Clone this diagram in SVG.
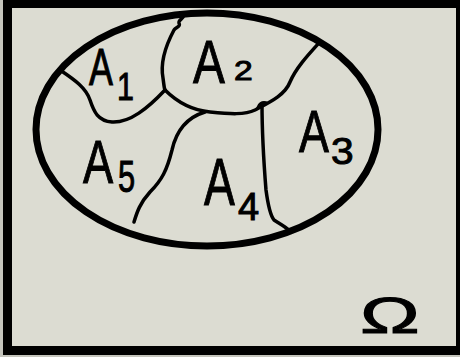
<svg xmlns="http://www.w3.org/2000/svg" width="460" height="357" viewBox="0 0 460 357">
<style>
.lbl{font-family:"Liberation Sans",Arial,sans-serif;fill:#000;stroke:#000;stroke-width:1}
.ln{fill:none;stroke:#000;stroke-width:3.5;stroke-linecap:round;stroke-linejoin:round}
</style>
<rect x="0" y="0" width="460" height="357" fill="#c4c4bc"/>
<rect x="3" y="0" width="457" height="355" fill="#000"/>
<rect x="12" y="8" width="444" height="338" fill="#dcdcd2"/>
<g id="set-A">
<ellipse cx="207" cy="129.5" rx="171" ry="116.5" fill="none" stroke="#000" stroke-width="7"/>
</g>
<g id="boundaries">
<path class="ln" d="M60,70 C75,80 86,88 90,100 C94,112 98,121 112,122 C130,123 148,108 165,90"/>
<path class="ln" d="M183,14 C186,18 178,19 179,23 C181,27 176,27 174,30 C166,45 160,62 163,78 C164,85 164,88 165,90"/>
<path class="ln" d="M165,90 C175,100 190,110 210,112 C230,114 245,115 255,110 C270,102 285,95 290,82 C296,68 308,55 318,44"/>
<path class="ln" d="M205,112 C185,118 176,132 172,150 C167,170 162,180 150,192 C140,203 137,212 134,222"/>
<path class="ln" d="M258,108 C259,104 262,102 266,103 M262,104 C262,130 264,165 266,190 C268,205 270,215 274,220 C280,224 286,227 290,231"/>
</g>
<g id="A1">
<text class="lbl" font-size="52" transform="translate(89,85) scale(0.69,1)">A</text>
<text class="lbl" font-size="38" transform="translate(117,100) scale(0.8,1)">1</text>
</g>
<g id="A2">
<text class="lbl" font-size="62" transform="translate(193,83) scale(0.77,1)">A</text>
<text class="lbl" font-size="28" transform="translate(234,80) scale(1.2,1)">2</text>
</g>
<g id="A3">
<text class="lbl" font-size="59" transform="translate(299,152) scale(0.76,1)">A</text>
<text class="lbl" font-size="37" transform="translate(331,164) scale(1.1,1)">3</text>
</g>
<g id="A4">
<text class="lbl" font-size="67" transform="translate(204,205) scale(0.69,1)">A</text>
<text class="lbl" font-size="38" transform="translate(238,220)">4</text>
</g>
<g id="A5">
<text class="lbl" font-size="62" transform="translate(83,183) scale(0.73,1)">A</text>
<text class="lbl" font-size="44" transform="translate(118,192) scale(0.7,1)">5</text>
</g>
<g id="omega">
<text class="lbl" font-size="50" transform="translate(360,333) scale(1.6,1)">Ω</text>
</g>
</svg>
